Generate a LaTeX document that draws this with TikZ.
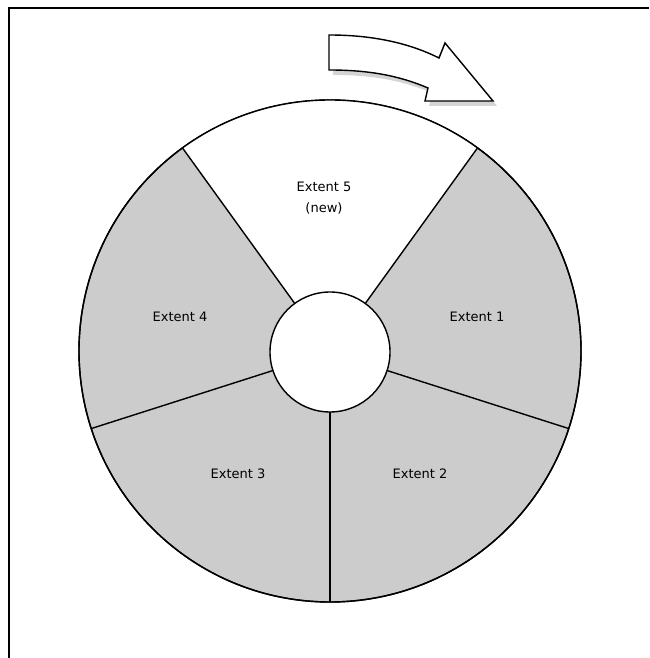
\documentclass[tikz,border=0pt]{standalone}
\usepackage{fontspec}
\newfontfamily\labelfont{DejaVu Sans}
\definecolor{sector}{HTML}{CCCCCC}
\definecolor{shadowgray}{HTML}{D4D4D4}
\begin{document}
\begin{tikzpicture}[x=1pt,y=1pt,
  ring/.style={circle,draw=black,line width=1.4pt,inner sep=0pt,outer sep=0pt},
  divider/.style={draw=black,line width=1.4pt},
  lbl/.style={font=\labelfont\fontsize{13}{21}\selectfont,align=center,inner sep=0pt}]
\useasboundingbox (0,0) rectangle (649,658);
% frame
\draw[line width=2pt] (8.5,0) -- (8.5,649.5) -- (649,649.5);
% wheel
\node[ring,fill=sector,minimum size=502pt] (outer) at (330,307) {};
\fill[white] (outer.center) -- (outer.54) arc[start angle=54,end angle=126,radius=251pt] -- cycle;
\draw[line width=1.4pt] (outer.center) circle[radius=251pt];
\node[ring,fill=white,minimum size=120pt] (inner) at (330,306) {};
\foreach \a in {54,126,198,270,342}{
  \draw[divider] (inner.\a) -- (outer.\a);
}
% labels
\node[lbl] (e5) at (324,460) {Extent 5\\(new)};
\node[lbl] (e1) at (477,341) {Extent 1};
\node[lbl] (e2) at (420,184) {Extent 2};
\node[lbl] (e3) at (238,184) {Extent 3};
\node[lbl] (e4) at (180,341) {Extent 4};
% rotation arrow: shadow then arrow
\fill[shadowgray] (333,618) .. controls (384,618) and (419,607) .. (443,595) -- (449,610) -- (497,552) -- (429,552) -- (432,565) .. controls (404,577) and (374,583) .. (333,583) -- cycle;
\filldraw[fill=white,draw=black,line width=1.4pt] (329,623) .. controls (380,623) and (415,612) .. (439,600) -- (445,615) -- (493,557) -- (425,557) -- (428,570) .. controls (400,582) and (370,588) .. (329,588) -- cycle;
\end{tikzpicture}
\end{document}
